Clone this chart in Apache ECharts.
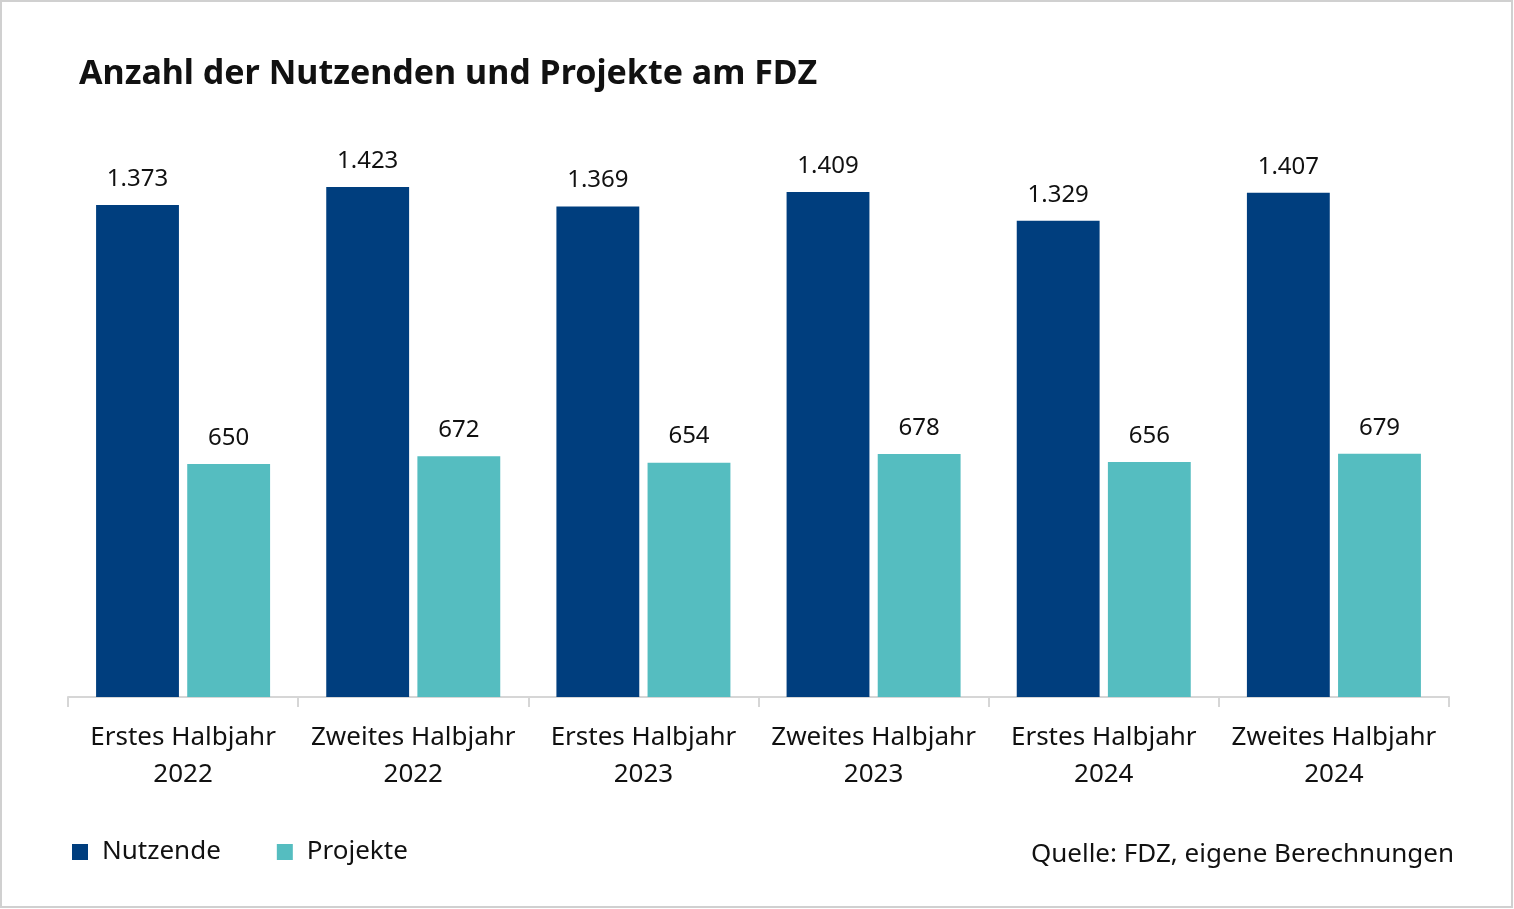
<!DOCTYPE html>
<html><head><meta charset="utf-8">
<script src="https://cdn.jsdelivr.net/npm/echarts@6/dist/echarts.min.js"></script>
<style>html,body{margin:0;padding:0;background:#fff}#c{width:1514px;height:909px}</style>
</head><body><div id="c"></div>
<script>
const categories = ['Erstes Halbjahr\n2022','Zweites Halbjahr\n2022','Erstes Halbjahr\n2023','Zweites Halbjahr\n2023','Erstes Halbjahr\n2024','Zweites Halbjahr\n2024'];
const nutzende = [1373, 1423, 1369, 1409, 1329, 1407];
const projekte = [650, 672, 654, 678, 656, 679];
const seriesNames = ['Nutzende', 'Projekte'];
const colors = ['#003e7e', '#55bdc0'];
const FONT = '"Noto Sans", sans-serif';
const fmt = v => v.toLocaleString('de-DE');
const chart = echarts.init(document.getElementById('c'));
chart.setOption({
  animation: false,
  color: colors,
  title: {text: 'Anzahl der Nutzenden und Projekte am FDZ', left: 74, top: 52,
    textStyle: {fontFamily: FONT, fontSize: 34, fontWeight: 'bold', color: '#111'}},
  legend: {left: 67, top: 834, itemWidth: 16, itemHeight: 16, itemGap: 56, icon: 'rect',
    textStyle: {fontFamily: FONT, fontSize: 26, color: '#111', padding: [0,0,0,9]}},
  grid: {left: 68, right: 65, top: 159.5, bottom: 212},
  xAxis: {type: 'category', data: categories,
    axisLine: {lineStyle: {color: '#d6d6d6', width: 2}},
    axisTick: {show: true, length: 10, lineStyle: {color: '#d6d6d6', width: 2}},
    axisLabel: {fontFamily: FONT, fontSize: 26, color: '#111', lineHeight: 37, margin: 22, interval: 0}},
  yAxis: {type: 'value', min: 0, max: 1500, show: false, splitLine: {show: false}},
  series: [
    {name: seriesNames[0], type: 'bar', data: nutzende, barWidth: '36%', barGap: '10%',
      label: {show: true, position: 'top', distance: 14, formatter: p => fmt(p.value),
        fontFamily: FONT, fontSize: 24, color: '#111'}},
    {name: seriesNames[1], type: 'bar', data: projekte, barWidth: '36%',
      label: {show: true, position: 'top', distance: 14, formatter: p => fmt(p.value),
        fontFamily: FONT, fontSize: 24, color: '#111'}}
  ],
  graphic: [
    {type: 'rect', shape: {x: 1, y: 1, width: 1511, height: 906}, style: {fill: 'none', stroke: '#d0d0d0', lineWidth: 2}, silent: true},
    {type: 'text', right: 60, top: 842, style: {text: 'Quelle: FDZ, eigene Berechnungen', fontFamily: FONT, fontSize: 26, fill: '#111'}}
  ]
});
</script></body></html>
